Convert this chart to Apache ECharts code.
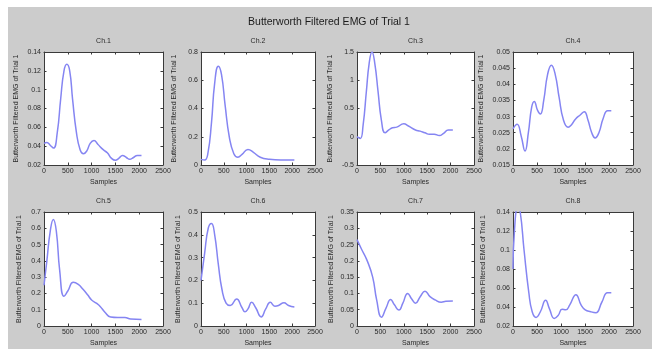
<!DOCTYPE html>
<html><head><meta charset="utf-8">
<script src="https://cdn.jsdelivr.net/npm/echarts@6/dist/echarts.min.js"></script>
<style>
html,body{margin:0;padding:0;background:#fff;width:652px;height:349px;overflow:hidden}
#bg{position:absolute;left:8px;top:7px;right:0;bottom:0;background:#cccccc}
#chart{position:absolute;left:0;top:0;width:652px;height:349px}
</style></head>
<body><div id="bg"></div><div id="chart"></div>
<script>
const mainTitle = 'Butterworth Filtered EMG of Trial 1';
const channelNames = ['Ch.1','Ch.2','Ch.3','Ch.4','Ch.5','Ch.6','Ch.7','Ch.8'];
const yLabel = 'Butterworth Filtered EMG of Trial 1';
const xLabel = 'Samples';
const xTicks = [0, 500, 1000, 1500, 2000, 2500];

const ch1 = [[0,0.043],[60,0.044],[130,0.041],[200,0.038],[280,0.055],[350,0.09],[420,0.12],[480,0.127],[540,0.12],[600,0.09],[680,0.055],[760,0.036],[830,0.032],[900,0.035],[970,0.043],[1050,0.046],[1130,0.042],[1250,0.036],[1330,0.033],[1420,0.027],[1500,0.025],[1570,0.027],[1650,0.030],[1730,0.028],[1800,0.026],[1880,0.028],[1960,0.030],[2048,0.030]];
const ch2 = [[0,0.04],[80,0.035],[150,0.08],[230,0.3],[300,0.58],[380,0.70],[450,0.64],[530,0.42],[620,0.2],[720,0.08],[810,0.055],[900,0.075],[1030,0.11],[1150,0.09],[1300,0.055],[1500,0.04],[1750,0.035],[2048,0.035]];
const ch3 = [[0,0],[70,-0.03],[130,0.2],[200,0.8],[260,1.3],[320,1.5],[380,1.3],[450,0.8],[520,0.3],[600,0.07],[680,0.12],[760,0.16],[850,0.17],[1000,0.23],[1100,0.19],[1250,0.12],[1350,0.10],[1450,0.07],[1550,0.045],[1650,0.045],[1760,0.02],[1850,0.06],[1950,0.12],[2048,0.12]];
const ch4 = [[0,0.0262],[85,0.0276],[170,0.024],[250,0.0193],[320,0.025],[390,0.033],[443,0.0347],[510,0.032],[570,0.0308],[640,0.035],[720,0.043],[800,0.0459],[880,0.043],[960,0.036],[1050,0.029],[1148,0.0267],[1220,0.0275],[1300,0.0292],[1400,0.0305],[1486,0.0315],[1560,0.029],[1640,0.025],[1711,0.0234],[1790,0.025],[1880,0.0295],[1972,0.0318],[2048,0.0318]];
const ch5 = [[0,0.25],[60,0.40],[130,0.58],[196,0.654],[260,0.58],[330,0.34],[420,0.182],[500,0.215],[616,0.268],[720,0.255],[820,0.225],[920,0.19],[1000,0.16],[1100,0.14],[1180,0.12],[1280,0.085],[1400,0.055],[1550,0.052],[1700,0.052],[1820,0.043],[2048,0.04]];
const ch6 = [[0,0.2],[80,0.32],[160,0.43],[230,0.45],[300,0.40],[380,0.27],[460,0.16],[550,0.1],[640,0.09],[780,0.118],[900,0.08],[964,0.062],[1030,0.075],[1110,0.104],[1200,0.08],[1320,0.04],[1420,0.075],[1520,0.104],[1620,0.087],[1700,0.09],[1820,0.102],[1920,0.09],[2048,0.083]];
const ch7 = [[0,0.265],[100,0.235],[210,0.203],[335,0.15],[420,0.08],[524,0.027],[620,0.055],[719,0.081],[800,0.065],[894,0.049],[980,0.07],[1082,0.1],[1170,0.083],[1250,0.07],[1350,0.09],[1453,0.107],[1560,0.09],[1670,0.08],[1800,0.073],[1900,0.076],[2048,0.077]];
const ch8 = [[0,0.08],[30,0.12],[100,0.145],[150,0.14],[230,0.1],[330,0.055],[400,0.035],[480,0.029],[570,0.035],[680,0.047],[760,0.038],[860,0.028],[940,0.031],[1022,0.0376],[1100,0.037],[1180,0.042],[1312,0.053],[1420,0.042],[1505,0.037],[1620,0.035],[1726,0.034],[1850,0.045],[1968,0.055],[2048,0.055]];
const channels = [ch1, ch2, ch3, ch4, ch5, ch6, ch7, ch8];

const yMin = [0.02, 0, -0.5, 0.015, 0, 0, 0, 0.02];
const yMax = [0.14, 0.8, 1.5, 0.05, 0.7, 0.5, 0.35, 0.14];
const yStep = [0.02, 0.2, 0.5, 0.005, 0.1, 0.1, 0.05, 0.02];

// layout
const colLeft = [44, 201, 357, 513];
const colWidth = [119, 114, 117, 120];
const rowTop = [52, 212];
const rowHeight = [113, 114];
const yNameGap = [24, 23, 23, 28, 21, 19, 22, 26];

const font = 'Liberation Sans, Arial, sans-serif';
const axisColor = '#3a3a3a';
const textColor = '#2a2a2a';
const lineColor = '#8585f2';
const plainNum = v => String(Math.round(v * 100000) / 100000);

const grids = [], xAxes = [], yAxes = [], series = [];
for (let i = 0; i < 8; i++) {
  const r = Math.floor(i / 4), c = i % 4;
  grids.push({left: colLeft[c], top: rowTop[r], width: colWidth[c], height: rowHeight[r],
    show: true, backgroundColor: '#ffffff', borderWidth: 0, containLabel: false});
}
for (let i = 0; i < 8; i++) {
  xAxes.push({type: 'value', gridIndex: i, min: xTicks[0], max: xTicks[xTicks.length-1], interval: 500,
    name: xLabel, nameLocation: 'middle', nameGap: 14,
    nameTextStyle: {fontFamily: font, fontSize: 7, color: textColor},
    axisLine: {show: true, onZero: false, lineStyle: {color: axisColor, width: 1}},
    axisTick: {show: true, inside: true, length: 2.5, lineStyle: {color: axisColor}},
    axisLabel: {fontFamily: font, fontSize: 7, color: textColor, margin: 3, showMinLabel: true, showMaxLabel: true, formatter: plainNum},
    splitLine: {show: false}});
  yAxes.push({type: 'value', gridIndex: i, min: yMin[i], max: yMax[i], interval: yStep[i],
    name: yLabel, nameLocation: 'middle', nameGap: yNameGap[i], nameRotate: 90,
    nameTextStyle: {fontFamily: font, fontSize: 7, color: textColor},
    axisLine: {show: true, onZero: false, lineStyle: {color: axisColor, width: 1}},
    axisTick: {show: true, inside: true, length: 2.5, lineStyle: {color: axisColor}},
    axisLabel: {fontFamily: font, fontSize: 7, color: textColor, margin: 3, showMinLabel: true, showMaxLabel: true, formatter: plainNum},
    splitLine: {show: false}});
}
for (let i = 0; i < 8; i++) {
  xAxes.push({type: 'value', gridIndex: i, position: 'top', min: xTicks[0], max: xTicks[xTicks.length-1], interval: 500,
    name: channelNames[i], nameLocation: 'middle', nameGap: 7,
    nameTextStyle: {fontFamily: font, fontSize: 7, color: textColor},
    axisLine: {show: true, onZero: false, lineStyle: {color: axisColor, width: 1}},
    axisTick: {show: true, inside: true, length: 2.5, lineStyle: {color: axisColor}},
    axisLabel: {show: false}, splitLine: {show: false}});
  yAxes.push({type: 'value', gridIndex: i, position: 'right', min: yMin[i], max: yMax[i], interval: yStep[i],
    axisLine: {show: true, onZero: false, lineStyle: {color: axisColor, width: 1}},
    axisTick: {show: true, inside: true, length: 2.5, lineStyle: {color: axisColor}},
    axisLabel: {show: false}, splitLine: {show: false}});
}
for (let i = 0; i < 8; i++) {
  series.push({type: 'line', xAxisIndex: i, yAxisIndex: i, data: channels[i],
    smooth: 0.5, showSymbol: false, clip: true,
    lineStyle: {color: lineColor, width: 1.5}, itemStyle: {color: lineColor}});
}

const chart = echarts.init(document.getElementById('chart'), null, {renderer: 'canvas'});
chart.setOption({
  backgroundColor: 'transparent',
  animation: false,
  title: {text: mainTitle, left: 324, top: 12, textAlign: 'center',
    textStyle: {fontFamily: font, fontSize: 10.5, fontWeight: 'normal', color: '#1a1a1a'}},
  grid: grids, xAxis: xAxes, yAxis: yAxes, series: series
});
</script></body></html>
